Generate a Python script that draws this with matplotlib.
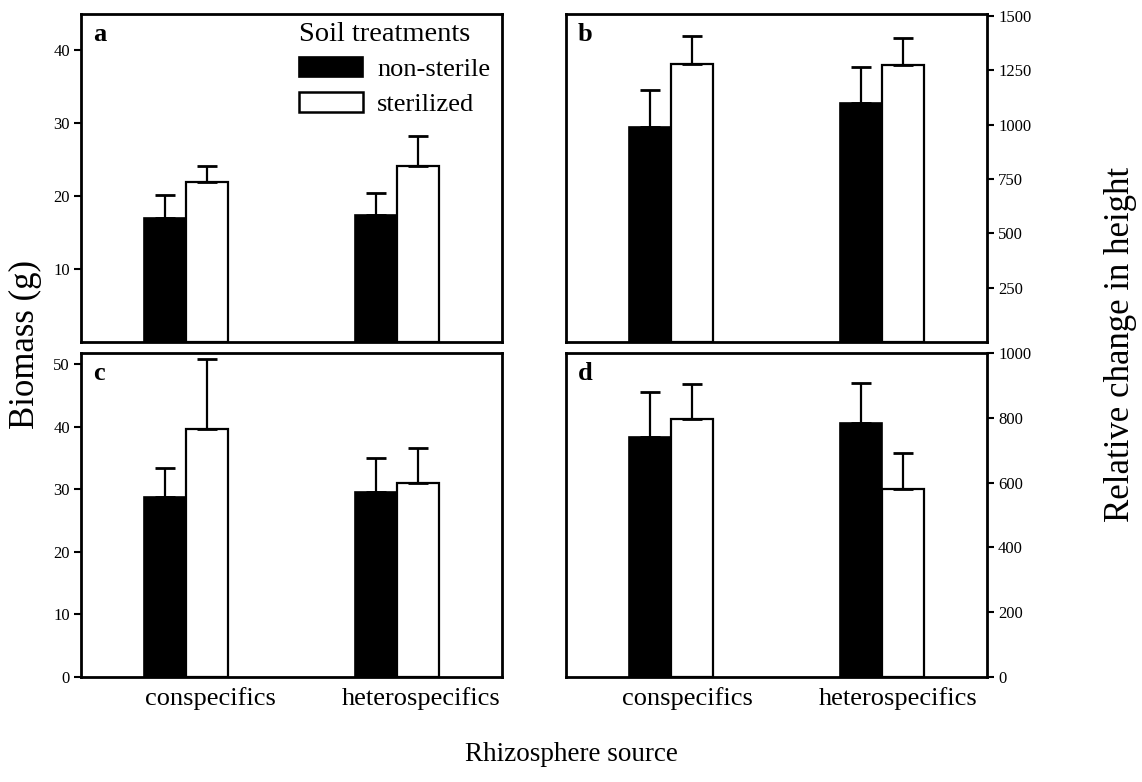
import numpy as np
import matplotlib.pyplot as plt
import matplotlib.transforms as mtransforms
from matplotlib.patches import Patch

plt.rcParams['font.family'] = ['Liberation Serif', 'DejaVu Serif']

# Rhizosphere source groups and soil treatments
groups = ['conspecifics', 'heterospecifics']
treatments = ['non-sterile', 'sterilized']

# Panel a: biomass (g)
a_nonsterile = [17.0, 17.4]
a_nonsterile_se = [3.2, 3.1]
a_sterilized = [22.0, 24.2]
a_sterilized_se = [2.2, 4.0]

# Panel b: relative change in height
b_nonsterile = [990, 1100]
b_nonsterile_se = [170, 165]
b_sterilized = [1280, 1275]
b_sterilized_se = [130, 125]

# Panel c: biomass (g)
c_nonsterile = [28.8, 29.6]
c_nonsterile_se = [4.6, 5.4]
c_sterilized = [39.6, 31.0]
c_sterilized_se = [11.3, 5.6]

# Panel d: relative change in height
d_nonsterile = [740, 785]
d_nonsterile_se = [140, 123]
d_sterilized = [795, 580]
d_sterilized_se = [110, 110]

a_ticks = [10, 20, 30, 40]
b_ticks = [250, 500, 750, 1000, 1250, 1500]
c_ticks = [0, 10, 20, 30, 40, 50]
d_ticks = [0, 200, 400, 600, 800, 1000]

W, H = 1142, 782
fig = plt.figure(figsize=(W / 100, H / 100), dpi=100)


def box(x0, x1, top, bottom):
    return [x0 / W, (H - bottom) / H, (x1 - x0) / W, (bottom - top) / H]


ax_a = fig.add_axes(box(81, 502, 14, 342))
ax_b = fig.add_axes(box(566, 987, 14, 342))
ax_c = fig.add_axes(box(81, 502, 353, 677))
ax_d = fig.add_axes(box(566, 987, 353, 677))

x = np.arange(len(groups))
width = 0.2
err_kw = dict(ecolor='black', elinewidth=1.6, capsize=7.5, capthick=2.0)


def draw_panel(ax, ns, ns_se, st, st_se, ylim, ticks, letter, right=False):
    zeros = np.zeros(len(ns))
    ax.bar(x - width / 2, ns, width, color='black', edgecolor='black',
           linewidth=1.2, yerr=[zeros, ns_se], error_kw=err_kw, zorder=2)
    ax.bar(x + width / 2, st, width, color='white', edgecolor='black',
           linewidth=1.6, yerr=[zeros, st_se], error_kw=err_kw, zorder=2)
    ax.set_xlim(-0.5, 1.5)
    ax.set_ylim(*ylim)
    ax.set_yticks(ticks)
    ax.set_yticklabels([str(t) for t in ticks])
    ax.tick_params(axis='y', direction='out', length=5, width=1.5,
                   labelsize=12, pad=3)
    if right:
        ax.yaxis.tick_right()
    ax.tick_params(axis='x', length=0)
    for s in ax.spines.values():
        s.set_linewidth(2.0)
    ax.text(0.028, 0.972, letter, transform=ax.transAxes, fontsize=19,
            fontweight='bold', ha='left', va='top')


draw_panel(ax_a, a_nonsterile, a_nonsterile_se, a_sterilized, a_sterilized_se,
           (0, 45), a_ticks, 'a')
draw_panel(ax_b, b_nonsterile, b_nonsterile_se, b_sterilized, b_sterilized_se,
           (0, 1510), b_ticks, 'b', right=True)
draw_panel(ax_c, c_nonsterile, c_nonsterile_se, c_sterilized, c_sterilized_se,
           (0, 51.8), c_ticks, 'c')
draw_panel(ax_d, d_nonsterile, d_nonsterile_se, d_sterilized, d_sterilized_se,
           (0, 1000), d_ticks, 'd', right=True)

for ax in (ax_a, ax_b):
    ax.set_xticks([])

# group labels under the lower panels, nudged a little right
for ax, shift in ((ax_c, 24), (ax_d, 16)):
    ax.set_xticks(x)
    ax.set_xticklabels(groups, fontsize=19)
    ax.tick_params(axis='x', pad=7)
    off = mtransforms.ScaledTranslation(shift / 100, 0, fig.dpi_scale_trans)
    for lab in ax.get_xticklabels():
        lab.set_transform(lab.get_transform() + off)

handles = [Patch(facecolor='black', edgecolor='black', linewidth=1.2),
           Patch(facecolor='white', edgecolor='black', linewidth=1.8)]
leg = ax_a.legend(handles, treatments, title='Soil treatments',
                  loc='upper left', bbox_to_anchor=(0.512, 0.985),
                  frameon=False, fontsize=19, title_fontsize=20.5,
                  handlelength=2.4, handleheight=0.8, handletextpad=0.55,
                  labelspacing=0.4, borderpad=0.1, borderaxespad=0.0,
                  alignment='left')

fig.text(0.022, 0.559, 'Biomass (g)', rotation=90, fontsize=25,
         ha='center', va='center')
fig.text(0.981, 0.559, 'Relative change in height', rotation=90, fontsize=25,
         ha='center', va='center')
fig.text(0.5, 0.035, 'Rhizosphere source', fontsize=19.5,
         ha='center', va='center')

fig.savefig('out.png', dpi=100, facecolor='white')
